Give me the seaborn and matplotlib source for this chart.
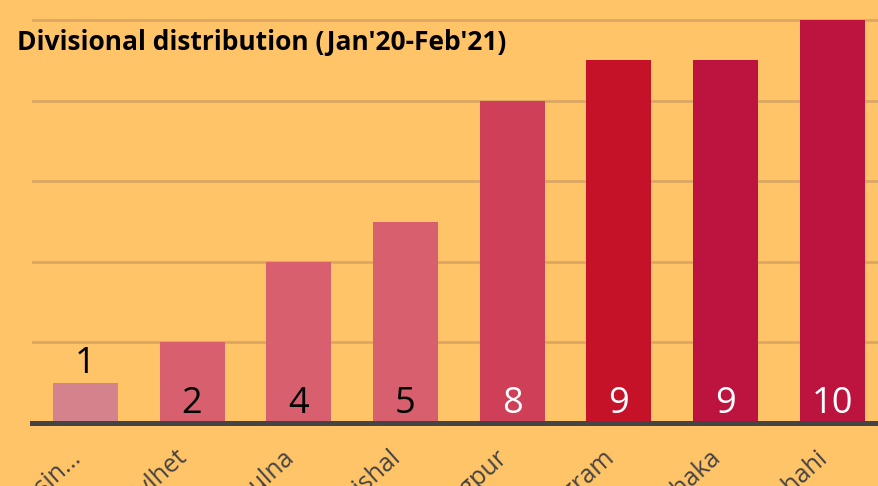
import matplotlib
matplotlib.use("Agg")
import matplotlib.pyplot as plt
import matplotlib.transforms as mtransforms
import seaborn as sns
import pandas as pd

# ── Data ──────────────────────────────────────────────────────────────────────
divisions = ["Mymensin\u2026", "Sylhet", "Khulna", "Barishal",
             "Rangpur", "Chattogram", "Dhaka", "Rajshahi"]
counts = [1, 2, 4, 5, 8, 9, 9, 10]
bar_colors = ["#d4828b", "#d75f6e", "#d75f6e", "#d75f6e",
              "#cf3f58", "#c61229", "#bc143e", "#bc143e"]
label_colors = ["black", "black", "black", "black",
                "white", "white", "white", "white"]

df = pd.DataFrame({"division": divisions, "count": counts})

bg = "#ffc368"
sns.set_theme(style="white")
plt.rcParams["font.family"] = ["Open Sans", "DejaVu Sans"]

fig = plt.figure(figsize=(8.79, 4.86), dpi=100, facecolor=bg)
ax = fig.add_axes([32 / 879, 63 / 486, 853.6 / 879, 423 / 486])
ax.set_facecolor(bg)

# gridlines
ax.set_ylim(0, 10.5)
ax.set_yticks(range(0, 11, 2))
ax.yaxis.grid(True, color="#dba763", linewidth=2)
ax.set_axisbelow(True)
ax.tick_params(axis="y", left=False, labelleft=False)

sns.barplot(data=df, x="division", y="count", hue="division",
            palette=bar_colors, width=0.61, legend=False, ax=ax,
            saturation=1, linewidth=0, edgecolor="none")

# value labels
for i, (v, c) in enumerate(zip(counts, label_colors)):
    y = v + 0.24 if v < 2 else 0.25
    ax.text(i, y, str(v), ha="center", va="baseline", fontsize=26,
            color=c)

for s in ["top", "right", "left"]:
    ax.spines[s].set_visible(False)
ax.spines["bottom"].set_color("#444444")
ax.spines["bottom"].set_linewidth(3.6)

ax.set_xlabel("")
ax.set_ylabel("")
ax.tick_params(axis="x", bottom=False, pad=16, labelsize=18,
               labelcolor="#444444")
shift = mtransforms.ScaledTranslation(-8 / 100, 0, fig.dpi_scale_trans)
for lbl in ax.get_xticklabels():
    lbl.set_rotation(42)
    lbl.set_ha("right")
    lbl.set_va("center")
    lbl.set_rotation_mode("anchor")
    lbl.set_transform(lbl.get_transform() + shift)

fig.text(17 / 879, (486 - 50) / 486, "Divisional distribution (Jan'20-Feb'21)",
         fontsize=19, fontweight="bold", color="black", ha="left",
         va="baseline")

fig.savefig("out.png", dpi=100, facecolor=bg)
